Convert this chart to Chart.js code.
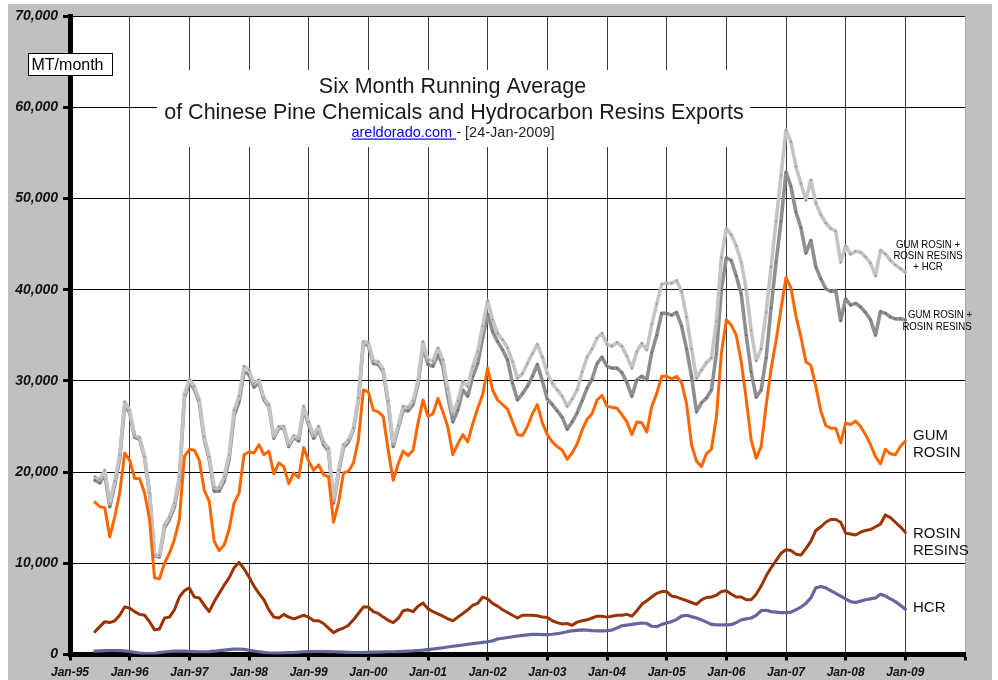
<!DOCTYPE html>
<html><head><meta charset="utf-8">
<script src="https://cdn.jsdelivr.net/npm/chart.js@4.4.0/dist/chart.umd.min.js"></script>
<style>html,body{margin:0;padding:0;background:#fff;}canvas{display:block;}</style>
</head><body>
<canvas id="c" width="998" height="680"></canvas>
<script>
// ---------- DATA (MT/month, six-month running averages) ----------
const MON = ['Jan','Feb','Mar','Apr','May','Jun','Jul','Aug','Sep','Oct','Nov','Dec'];
// category axis: every month Jan-95 .. Jan-10
const allMonths = [];
for (let i = 0; i <= 180; i++) {
  allMonths.push(MON[i % 12] + '-' + String((95 + Math.floor(i / 12)) % 100).padStart(2, '0'));
}
// months with data: Jun-95 .. Jan-09
const months = allMonths.slice(allMonths.indexOf('Jun-95'), allMonths.indexOf('Jan-09') + 1);

const xTickLabels = ['Jan-95','Jan-96','Jan-97','Jan-98','Jan-99','Jan-00','Jan-01','Jan-02',
                     'Jan-03','Jan-04','Jan-05','Jan-06','Jan-07','Jan-08','Jan-09'];

const gumRosin = [16700,16200,16100,12900,15100,17700,22100,
 21300,19300,19300,17700,14800,8400,8300,10000,11100,12600,14800,21700,
 22500,22400,21300,18000,16800,12400,11400,12000,13700,16600,17700,21900,
 22200,22100,23000,21900,22300,19800,21000,20600,18700,19900,19400,22700,
 21200,20200,20800,19700,19500,14500,16600,19900,20100,21000,23500,29000,
 28800,26800,26600,26100,22400,19100,20900,22300,21800,22400,25400,27900,
 26100,26400,28100,26600,24900,21900,23100,24100,23300,25300,27000,28500,
 31400,29000,27900,27400,26900,25500,24100,24000,25000,26400,27400,25400,
 24100,23300,22800,22400,21400,22100,23100,24600,25800,26400,27900,28400,
 27200,27100,27000,26300,25500,24100,25500,25400,24400,27200,28600,30500,
 30500,30200,30500,29800,27500,23000,21200,20600,22000,22500,26000,33000,
 36700,36100,35000,32100,28000,23500,21500,22800,27300,31300,34400,37900,
 41300,40200,37100,34800,32100,31700,29400,26700,25100,24800,24800,23200,
 25400,25200,25600,25000,24100,23000,21700,20900,22500,22000,21900,22800,
 23400];

const rosinResins = [2500,3050,3600,3500,3700,4300,5200,
 5100,4700,4400,4300,3600,2700,2800,4000,4100,4900,6300,7000,
 7300,6300,6200,5400,4700,5800,6700,7600,8400,9500,10100,9400,
 8500,7500,6700,6000,4900,4100,4000,4400,4100,3900,4100,4300,
 4100,3700,3700,3400,2900,2400,2700,2900,3200,3800,4500,5200,
 5200,4700,4500,4100,3750,3500,3950,4800,4900,4700,5300,5650,
 5000,4700,4450,4200,3900,3700,4100,4500,4900,5400,5600,6300,
 6100,5600,5300,4900,4600,4300,4000,4300,4300,4300,4250,4100,
 4050,3700,3500,3350,3400,3200,3550,3700,3800,4000,4200,4200,
 4100,4200,4300,4300,4400,4200,4800,5500,5900,6300,6700,6900,
 6900,6400,6300,6100,5900,5700,5500,6000,6250,6300,6500,6900,
 7000,6600,6300,6300,6000,6000,6600,7500,8600,9500,10300,11100,
 11500,11400,11000,10900,11600,12400,13600,14000,14500,14800,14800,14500,
 13300,13200,13100,13400,13600,13700,14000,14300,15300,15000,14500,14000,
 13400];

const hcr = [370,400,430,440,440,430,400,
 330,240,160,120,110,130,200,270,330,360,370,370,
 350,320,300,300,320,360,420,470,530,580,600,560,
 470,380,300,230,180,150,160,180,200,220,260,300,
 320,330,330,330,320,300,280,260,240,220,220,220,
 230,250,270,290,300,300,320,350,380,400,440,480,
 540,600,670,740,820,900,970,1040,1120,1200,1260,1330,
 1400,1500,1700,1780,1860,1950,2030,2100,2150,2200,2200,2180,
 2180,2220,2280,2380,2500,2600,2650,2700,2680,2620,2600,2600,
 2620,2680,2900,3150,3220,3300,3380,3450,3400,3100,3050,3300,
 3450,3600,3850,4200,4300,4150,4000,3800,3550,3300,3250,3250,
 3240,3270,3500,3800,3900,4000,4300,4800,4850,4700,4650,4600,
 4600,4650,4900,5200,5600,6200,7300,7450,7300,7000,6700,6400,
 6100,5800,5700,5850,6000,6100,6200,6600,6400,6100,5800,5400,
 4950];

const gumPlusResins = [19100,18800,19800,16200,18600,21500,27300,
 26500,23800,23600,21600,17600,10800,10700,13900,14800,16200,19100,28100,
 29800,29100,27600,23600,21400,17900,17900,19000,21400,26200,27700,31000,
 30700,29300,29800,27900,27200,23700,24800,24800,22800,23800,23400,26900,
 25200,23700,24700,23000,22300,16600,19900,22700,23300,24600,27900,34100,
 33900,31900,31800,31000,27500,22800,24800,26800,26700,27400,29700,33800,
 31800,31600,32900,31600,28300,25500,26800,29000,28300,30500,31900,34700,
 37300,35400,34300,33400,32300,29700,27900,28600,29400,30500,31800,30000,
 28000,27400,26700,26000,24700,25500,26500,27800,29200,30200,31900,32600,
 31600,31400,31400,30900,29800,28300,30100,30500,30100,33100,35000,37400,
 37400,37200,37500,36000,33500,30500,26600,27600,28100,29000,33000,40000,
 43500,43200,41500,39500,35000,31000,28200,29000,32500,38000,43000,47500,
 52900,51300,48500,46800,44000,45400,42500,41200,40100,39800,39900,36600,
 39000,38300,38500,38100,37500,36700,35000,37600,37400,37000,36800,36800,
 36700];

const gumPlusResinsPlusHcr = [19500,19200,20200,16600,19000,21900,27700,
 26800,24000,23800,21700,17700,10900,10900,14200,15100,16600,19500,28500,
 30200,29400,27900,23900,21700,18300,18300,19500,21900,26800,28300,31600,
 31200,29700,30100,28100,27400,23900,25000,25000,23000,24000,23700,27200,
 25500,24000,25000,23300,22600,16900,20200,23000,23500,24800,28100,34300,
 34200,32200,32100,31300,27800,23100,25100,27200,27100,27800,30100,34300,
 32300,32200,33600,32300,29100,26400,27800,29900,29400,31600,33200,36000,
 38800,36700,35200,34500,33600,32100,30300,30800,31900,33000,34000,32600,
 30800,29700,29000,28300,27200,28000,29000,31000,32600,33500,34700,35200,
 34000,33800,34200,33800,32700,31400,33200,34100,33400,36200,38400,40600,
 40700,40700,41000,39800,37000,33500,30300,31200,32000,32500,36500,43500,
 46700,46000,44800,43000,40000,35500,32200,33500,37500,42500,47500,52500,
 57500,56200,53500,51600,49800,52000,49500,48200,47300,46700,46400,43000,
 44800,43900,44200,44100,43600,42900,41500,44300,43900,43200,42700,42300,
 41900];

// ---------- CHART ----------
const FONT = "'Liberation Sans', Arial, Helvetica, sans-serif";
const pts = arr => months.map((m, i) => ({ x: m, y: arr[i] }));

const bgPlugin = {
  id: 'bg',
  beforeDraw(chart) {
    const { ctx, chartArea: a } = chart;
    ctx.save();
    ctx.fillStyle = '#ffffff';
    ctx.fillRect(0, 0, chart.width, chart.height);
    ctx.fillStyle = '#c0c0c0';
    ctx.fillRect(8, 4, 984, 676);
    ctx.fillStyle = '#ffffff';
    ctx.fillRect(a.left, a.top, a.right - a.left, a.bottom - a.top);
    ctx.restore();
  },
  beforeDatasetsDraw(chart) {
    const ctx = chart.ctx;
    ctx.save();
    // title block (covers grid lines)
    ctx.fillStyle = '#ffffff';
    ctx.fillRect(157, 70, 593, 77);
    ctx.fillStyle = '#1a1a1a';
    ctx.textAlign = 'center';
    ctx.textBaseline = 'alphabetic';
    ctx.font = '21.5px ' + FONT;
    ctx.fillText('Six Month Running Average', 452.5, 93);
    ctx.fillText('of Chinese Pine Chemicals and Hydrocarbon Resins Exports', 454, 118.5);
    ctx.font = '14.5px ' + FONT;
    const link = 'areldorado.com ';
    const rest = '- [24-Jan-2009]';
    const w1 = ctx.measureText(link).width, w2 = ctx.measureText(rest).width;
    const x0 = 453 - (w1 + w2) / 2;
    ctx.textAlign = 'left';
    ctx.fillStyle = '#0000ee';
    ctx.fillText(link, x0, 137);
    ctx.fillRect(x0, 138.5, w1, 1.2);
    ctx.fillStyle = '#222';
    ctx.fillText(rest, x0 + w1, 137);
    ctx.restore();
  },
  afterDraw(chart) {
    const ctx = chart.ctx;
    ctx.save();
    // unit box
    ctx.fillStyle = '#ffffff';
    ctx.fillRect(28, 53, 85, 23);
    ctx.strokeStyle = '#000';
    ctx.lineWidth = 1;
    ctx.strokeRect(28.5, 53.5, 84, 22);
    ctx.fillStyle = '#000';
    ctx.font = '16px ' + FONT;
    ctx.textAlign = 'left';
    ctx.textBaseline = 'alphabetic';
    ctx.fillText('MT/month', 31.5, 69.5);
    // series labels on the right
    const cond = (t, cx, y) => {
      ctx.save(); ctx.translate(cx, y); ctx.scale(0.92, 1);
      ctx.textAlign = 'center'; ctx.fillText(t, 0, 0); ctx.restore();
    };
    ctx.font = '10.5px ' + FONT;
    ctx.fillStyle = '#000';
    cond('GUM ROSIN +', 928, 248);
    cond('ROSIN RESINS', 928, 259);
    cond('+ HCR', 928, 270);
    cond('GUM ROSIN +', 940, 318);
    cond('ROSIN RESINS', 937, 329.5);
    ctx.font = '15px ' + FONT;
    ctx.fillStyle = '#111';
    ctx.textAlign = 'left';
    ctx.fillText('GUM', 913, 440);
    ctx.fillText('ROSIN', 913, 457);
    ctx.fillText('ROSIN', 913, 538);
    ctx.fillText('RESINS', 913, 555);
    ctx.fillText('HCR', 913, 611.5);
    ctx.restore();
  }
};

const line = (label, arr, color, width, extra) => Object.assign({
  label, data: pts(arr), borderColor: color, backgroundColor: color,
  borderWidth: width, pointRadius: 0, fill: false, tension: 0,
  borderJoinStyle: 'round', borderCapStyle: 'round'
}, extra || {});

new Chart(document.getElementById('c'), {
  type: 'line',
  data: {
    labels: allMonths,
    datasets: [
      line('GUM ROSIN', gumRosin, '#ff6600', 3),
      line('ROSIN RESINS', rosinResins, '#993300', 3),
      line('HCR', hcr, '#66669c', 3.2),
      line('GUM ROSIN + ROSIN RESINS + HCR', gumPlusResinsPlusHcr, '#c4c4c4', 3.6,
           { pointRadius: 1.1, pointBackgroundColor: '#9a9a9a', pointBorderWidth: 0 }),
      line('GUM ROSIN + ROSIN RESINS', gumPlusResins, '#8f8f8f', 3.6,
           { pointRadius: 1.1, pointBackgroundColor: '#6a6a6a', pointBorderWidth: 0 })
    ]
  },
  options: {
    responsive: false,
    animation: false,
    devicePixelRatio: 1,
    layout: { padding: { left: 0, right: 33, top: 16, bottom: 0 } },
    plugins: { legend: { display: false }, tooltip: { enabled: false }, title: { display: false } },
    scales: {
      x: {
        type: 'category',
        offset: false,
        border: { color: '#000', width: 5 },
        grid: {
          color: c => (c.index % 12 === 0 ? (c.index === 180 ? '#a8a8a8' : '#3a3a3a') : 'rgba(0,0,0,0)'),
          lineWidth: 1,
          drawTicks: true,
          tickLength: 6,
          tickWidth: 3,
          tickColor: c => (c.index % 12 === 0 ? '#000' : 'rgba(0,0,0,0)')
        },
        ticks: {
          autoSkip: false, maxRotation: 0, minRotation: 0, padding: 5,
          color: '#111',
          font: { family: FONT, size: 12, style: 'italic', weight: 'bold' },
          callback: function (v) {
            const l = this.getLabelForValue(v);
            return xTickLabels.includes(l) ? l : '';
          }
        },
        afterFit: s => { s.height = 25.5; }
      },
      y: {
        min: 0, max: 70000,
        border: { color: '#000', width: 5 },
        grid: { color: '#000', lineWidth: 1, tickLength: 7, tickWidth: 3, tickColor: '#000' },
        ticks: {
          stepSize: 10000, padding: 5, color: '#111',
          font: { family: FONT, size: 14, style: 'italic', weight: 'bold' },
          callback: v => v.toLocaleString('en-US')
        },
        afterFit: s => { s.width = 70; }
      }
    }
  },
  plugins: [bgPlugin]
});
</script>
</body></html>
